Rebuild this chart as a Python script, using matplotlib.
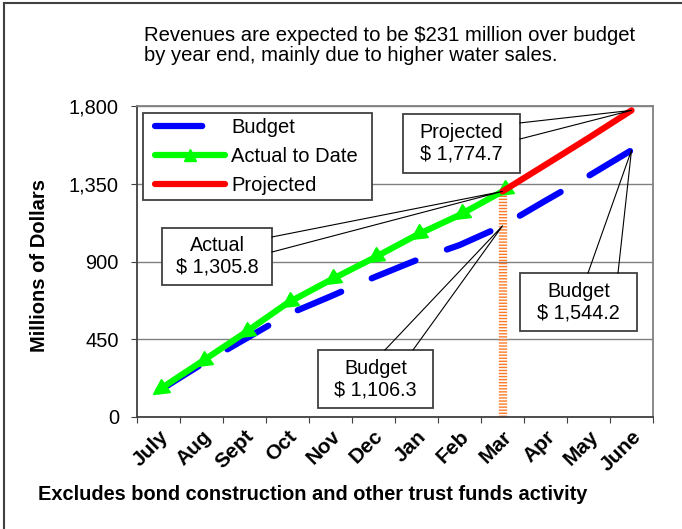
import matplotlib
matplotlib.use('Agg')
import matplotlib.pyplot as plt
from matplotlib.markers import MarkerStyle
from matplotlib.transforms import Affine2D
from matplotlib.patches import Rectangle
from matplotlib.lines import Line2D
from matplotlib.legend_handler import HandlerLine2D
from matplotlib.ticker import FuncFormatter

plt.rcParams['font.family'] = ['Liberation Sans', 'DejaVu Sans']
plt.rcParams['lines.scale_dashes'] = False

# data (millions of dollars)
months = ['July', 'Aug', 'Sept', 'Oct', 'Nov', 'Dec', 'Jan', 'Feb', 'Mar', 'Apr', 'May', 'June']
budget = [150, 305, 449, 593, 698, 807, 908, 995, 1106.3, 1252, 1395, 1544.2]
actual = [156, 320, 486, 660, 793, 920, 1053, 1169, 1305.8]
projected = [1305.8, 1460, 1615, 1774.7]
yticks = [0, 450, 900, 1350, 1800]

title = ('Revenues are expected to be $231 million over budget\n'
         'by year end, mainly due to higher water sales.')
note = 'Excludes bond construction and other trust funds activity'

x_all = list(range(len(months)))
x_act = x_all[:len(actual)]
x_proj = x_all[len(actual) - 1:]
i_mar = len(actual) - 1

BLUE, GREEN, RED = '#0000FF', '#00FF00', '#FF0000'
DASH = (34, 24)

fig = plt.figure(figsize=(6.82, 5.29), dpi=100)
ax = fig.add_axes([137 / 682, 1 - 417 / 529, 516 / 682, 311 / 529])

ax.set_ylim(0, 1800)
ax.set_xlim(-0.5, 11.5)
ax.set_yticks(yticks)
ax.yaxis.set_major_formatter(FuncFormatter(lambda v, p: f'{int(v):,}'))
ax.grid(axis='y', color='#808080', lw=1.0)
ax.set_axisbelow(True)

# orange marker line at the current month
ax.plot([i_mar, i_mar], [0, actual[-1]], color='#FF7A28', lw=6,
        dashes=(1.0, 1.2), dash_capstyle='butt', zorder=2)

ax.plot(x_all, budget, color=BLUE, lw=4.5, dashes=DASH,
        dash_capstyle='round', zorder=3)
tri = MarkerStyle('<', transform=Affine2D().rotate_deg(33))
ax.plot(x_act, actual, color=GREEN, lw=4.5, marker=tri, markersize=11,
        solid_capstyle='round', zorder=4)
ax.plot(x_proj, projected, color=RED, lw=4.5, solid_capstyle='round', zorder=4)

# ticks
ax.set_xticks([i - 0.5 for i in range(len(months) + 1)])
ax.set_xticklabels([])
ax.set_xticks(x_all, minor=True)
ax.set_xticklabels(months, minor=True, rotation=45, ha='right', va='top',
                   rotation_mode='anchor', fontsize=15, fontweight='bold')
ax.tick_params(axis='x', which='minor', length=0, pad=7)
ax.tick_params(axis='x', which='major', length=4, color='#404040')
ax.tick_params(axis='y', length=4, color='#404040', labelsize=14.4, pad=9)

for s in ['left', 'bottom']:
    ax.spines[s].set_color('#404040')
    ax.spines[s].set_linewidth(1.3)
for s in ['top', 'right']:
    ax.spines[s].set_color('#808080')
    ax.spines[s].set_linewidth(1.3)

# legend
handles = [
    Line2D([], [], color=BLUE, lw=4.5, dashes=DASH, dash_capstyle='round'),
    Line2D([], [], color=GREEN, lw=4.5, marker='^', markersize=8,
           solid_capstyle='round'),
    Line2D([], [], color=RED, lw=4.5, solid_capstyle='round'),
]
leg = ax.legend(handles, ['Budget', 'Actual to Date', 'Projected'],
                loc='upper left', mode='expand',
                bbox_to_anchor=(0.0116, 0.7042, 0.4438, 0.2733),
                prop={'size': 14.5},
                handlelength=3.83, handletextpad=0.3, labelspacing=0.5,
                borderpad=0.25, borderaxespad=0, fancybox=False, framealpha=1,
                handler_map={Line2D: HandlerLine2D(xpad=0.35)})
leg.get_frame().set_edgecolor('#404040')
leg.get_frame().set_linewidth(1.3)
leg.set_zorder(6)


def callout(x0, x1, y0, y1, text, p1, p2, target):
    ax.add_patch(Rectangle((x0, y0), x1 - x0, y1 - y0, facecolor='white',
                           edgecolor='#404040', lw=1.3, zorder=7))
    ax.text((x0 + x1) / 2, (y0 + y1) / 2, text, ha='center', va='center',
            fontsize=14.2, linespacing=1.15, zorder=8)
    ax.plot([p1[0], target[0], p2[0]], [p1[1], target[1], p2[1]],
            color='black', lw=0.8, zorder=7, clip_on=False)


callout(0.081, 2.64, 764, 1094, f'Actual\n$ {actual[-1]:,.1f}',
        (2.64, 1042), (2.64, 955), (i_mar, actual[-1]))
callout(5.686, 8.407, 1412, 1754, f'Projected\n$ {projected[-1]:,.1f}',
        (8.407, 1702), (8.407, 1609), (x_all[-1], projected[-1]))
callout(8.407, 11.128, 498, 833, f'Budget\n$ {budget[-1]:,.1f}',
        (9.988, 833), (10.686, 833), (x_all[-1], budget[-1]))
callout(3.709, 6.384, 52, 388, f'Budget\n$ {budget[i_mar]:,.1f}',
        (5.267, 388), (5.919, 388), (i_mar, budget[i_mar]))

# texts around the chart
fig.text(144 / 682, 1 - 26 / 529, title, ha='left', va='top', fontsize=14.6,
         linespacing=1.08)
fig.text(40 / 682, 1 - 265 / 529, 'Millions of Dollars', rotation=90,
         ha='center', va='center', fontsize=14.5, fontweight='bold')
fig.text(38 / 682, 1 - 495 / 529, note, ha='left', va='center', fontsize=14.4,
         fontweight='bold')

# outer border (left and top)
fig.add_artist(Line2D([4 / 682, 4 / 682], [0, 1 - 3 / 529], color='#404040', lw=1.5))
fig.add_artist(Line2D([4 / 682, 1], [1 - 3 / 529, 1 - 3 / 529], color='#404040', lw=1.5))

plt.savefig('out.png', dpi=100)
